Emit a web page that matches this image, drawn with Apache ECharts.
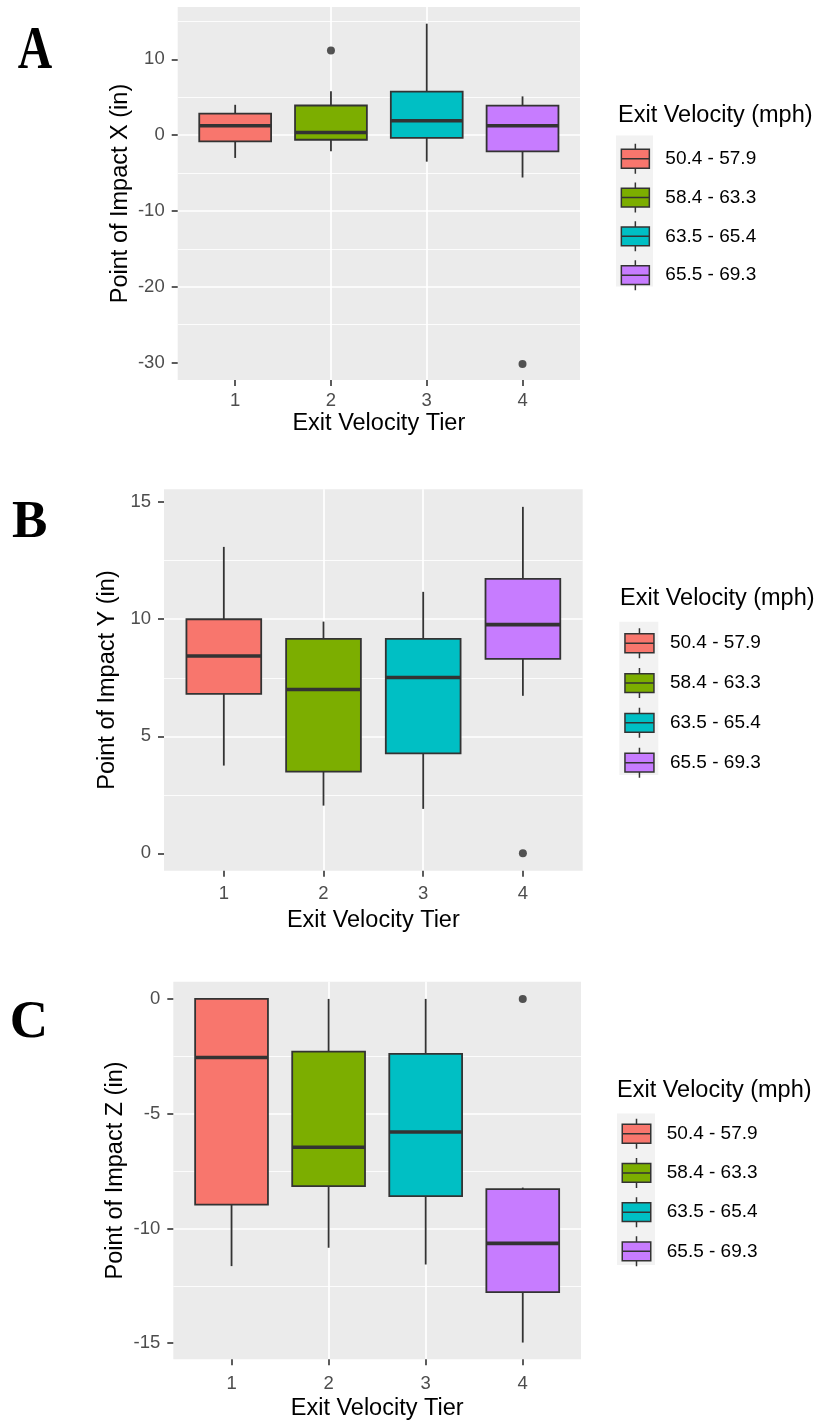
<!DOCTYPE html>
<html>
<head>
<meta charset="utf-8">
<script src="https://cdn.jsdelivr.net/npm/echarts@6/dist/echarts.min.js"></script>
<style>
html,body{margin:0;padding:0;background:#fff;}
#chart{width:825px;height:1425px;}
</style>
</head>
<body>
<div id="chart"></div>
<script>
// ---------------- data ----------------
const tiers = [1, 2, 3, 4];
const tierLabels = ['50.4 - 57.9', '58.4 - 63.3', '63.5 - 65.4', '65.5 - 69.3'];
const tierColors = ['#F8766D', '#7CAE00', '#00BFC4', '#C77CFF'];

// [min, Q1, median, Q3, max] per tier
const statsX = [
  [-3.01, -0.83, 1.24, 2.84, 4.0],
  [-2.14, -0.61, 0.35, 3.91, 5.78],
  [-3.5, -0.35, 1.9, 5.74, 14.7],
  [-5.59, -2.14, 1.24, 3.9, 5.11]
];
const outliersX = [[2, 11.15], [4, -30.2]];

const statsY = [
  [3.75, 6.81, 8.43, 10.0, 13.09],
  [2.04, 3.49, 7.0, 9.16, 9.9],
  [1.9, 4.27, 7.51, 9.16, 11.17],
  [6.73, 8.31, 9.77, 11.72, 14.8]
];
const outliersY = [[4, 0]];

const statsZ = [
  [-11.64, -8.96, -2.55, 0, 0],
  [-10.84, -8.16, -6.46, -2.3, 0],
  [-11.57, -8.59, -5.8, -2.39, 0],
  [-14.97, -12.77, -10.65, -8.29, -8.22]
];
const outliersZ = [[4, 0]];

const xTickValues = [1, 2, 3, 4];
const yTicksX = [-30, -20, -10, 0, 10];
const yTicksY = [0, 5, 10, 15];
const yTicksZ = [-15, -10, -5, 0];

const panelLetters = ['A', 'B', 'C'];
const yTitles = ['Point of Impact X (in)', 'Point of Impact Y (in)', 'Point of Impact Z (in)'];
const xTitle = 'Exit Velocity Tier';
const legendTitle = 'Exit Velocity (mph)';

// ---------------- styling / layout ----------------
const FONT = '"Liberation Sans", Arial, sans-serif';
const OUTLINE = '#333333';
const LW = 1.8;
const BOX_WIDTH = 0.75;

const panels = [
  { stats: statsX, outliers: outliersX, ticks: yTicksX, yMin: -32.3, yMax: 16.9, split: 5,
    grid: { left: 177.7, top: 7, width: 402.3, height: 373 },
    xLabelMargin: 11, xNameGap: 32, yNameGap: 45,
    legend: { left: 620.6, top: 143, gap: 7.3, iw: 28 }, bg: { x: 616, y: 135.5, w: 37, h: 151 },
    lTitle: { left: 618, top: 104 }, letter: { x: 35, y: 52, sx: 0.9, sy: 1.16 } },
  { stats: statsY, outliers: outliersY, ticks: yTicksY, yMin: -0.74, yMax: 15.55, split: 3,
    grid: { left: 164, top: 489.3, width: 418.7, height: 381.4 },
    xLabelMargin: 14, xNameGap: 38, yNameGap: 39.7,
    legend: { left: 624.2, top: 627.5, gap: 8.3, iw: 29 }, bg: { x: 619.3, y: 621.7, w: 39, h: 153.3 },
    lTitle: { left: 620, top: 587 }, letter: { x: 29.7, y: 523, sx: 1, sy: 1 } },
  { stats: statsZ, outliers: outliersZ, ticks: yTicksZ, yMin: -15.7, yMax: 0.75, split: 3,
    grid: { left: 173.3, top: 981.7, width: 407.7, height: 377.6 },
    xLabelMargin: 15.5, xNameGap: 37.5, yNameGap: 45.5,
    legend: { left: 621.5, top: 1118, gap: 7.7, iw: 28.5 }, bg: { x: 617, y: 1113.5, w: 38, h: 151.5 },
    lTitle: { left: 617, top: 1079 }, letter: { x: 29, y: 1023, sx: 1, sy: 1 } }
];

function iconPath(w, h) {
  const b1 = (h * 5.6 / 30).toFixed(2), b2 = (h * 24.4 / 30).toFixed(2), m = (h / 2).toFixed(2), c = (w / 2).toFixed(2);
  return 'path://M0,' + b1 + 'L' + w + ',' + b1 + 'L' + w + ',' + b2 + 'L0,' + b2 + 'Z' +
    'M0,' + m + 'L' + w + ',' + m +
    'M' + c + ',0L' + c + ',' + b1 +
    'M' + c + ',' + b2 + 'L' + c + ',' + h;
}

function renderBox(params, api) {
  const x = api.value(0);
  const pMin = api.coord([x, api.value(1)]);
  const pQ1 = api.coord([x, api.value(2)]);
  const pMed = api.coord([x, api.value(3)]);
  const pQ3 = api.coord([x, api.value(4)]);
  const pMax = api.coord([x, api.value(5)]);
  const w = api.size([BOX_WIDTH, 0], [x, 0])[0];
  const cx = pMed[0];
  const color = api.visual('color');
  const ls = { stroke: OUTLINE, lineWidth: LW };
  return {
    type: 'group',
    children: [
      { type: 'line', shape: { x1: cx, y1: pMax[1], x2: cx, y2: pQ3[1] }, style: ls },
      { type: 'line', shape: { x1: cx, y1: pQ1[1], x2: cx, y2: pMin[1] }, style: ls },
      { type: 'rect', shape: { x: cx - w / 2, y: pQ3[1], width: w, height: pQ1[1] - pQ3[1] },
        style: { fill: color, stroke: OUTLINE, lineWidth: LW } },
      { type: 'line', shape: { x1: cx - w / 2, y1: pMed[1], x2: cx + w / 2, y2: pMed[1] },
        style: { stroke: OUTLINE, lineWidth: LW * 2 } }
    ]
  };
}

const grids = [], xAxes = [], yAxes = [], series = [], legends = [], titles = [], graphics = [];

panels.forEach(function (p, pi) {
  grids.push(Object.assign({ show: true, backgroundColor: '#EBEBEB', borderWidth: 0 }, p.grid));
  xAxes.push({
    type: 'value', gridIndex: pi, min: 0.4, max: 4.6, position: 'bottom',
    name: xTitle, nameLocation: 'middle', nameGap: p.xNameGap,
    nameTextStyle: { fontSize: 23.5, color: '#000', fontFamily: FONT },
    axisLine: { show: false, onZero: false },
    axisTick: { show: true, length: 6, customValues: xTickValues, lineStyle: { color: OUTLINE, width: 1.6 } },
    axisLabel: { customValues: xTickValues, margin: p.xLabelMargin, fontSize: 18.5, color: '#4D4D4D', fontFamily: FONT },
    splitLine: { show: true, showMinLine: false, showMaxLine: false, lineStyle: { color: '#FFFFFF', width: 1.7 } }
  });
  yAxes.push({
    type: 'value', gridIndex: pi, min: p.yMin, max: p.yMax, splitNumber: p.split, position: 'left',
    name: yTitles[pi], nameLocation: 'middle', nameGap: p.yNameGap, nameRotate: 90,
    nameTextStyle: { fontSize: 23.5, color: '#000', fontFamily: FONT },
    axisLine: { show: false, onZero: false },
    axisTick: { show: true, length: 6, customValues: p.ticks, lineStyle: { color: OUTLINE, width: 1.6 } },
    axisLabel: { customValues: p.ticks, margin: 13, fontSize: 18.5, color: '#4D4D4D', fontFamily: FONT },
    splitLine: { show: true, showMinLine: false, showMaxLine: false, lineStyle: { color: '#FFFFFF', width: 1.7 } },
    minorTick: { show: false, splitNumber: 2 },
    minorSplitLine: { show: true, lineStyle: { color: '#FFFFFF', width: 0.85 } }
  });
  tiers.forEach(function (t, ti) {
    series.push({
      type: 'custom', name: tierLabels[ti], xAxisIndex: pi, yAxisIndex: pi,
      renderItem: renderBox,
      itemStyle: { color: tierColors[ti] },
      encode: { x: 0, y: [1, 2, 3, 4, 5] },
      dimensions: ['tier', 'min', 'q1', 'median', 'q3', 'max'],
      data: [[t].concat(p.stats[ti])],
      silent: true
    });
  });
  series.push({
    type: 'scatter', name: 'outliers', xAxisIndex: pi, yAxisIndex: pi,
    data: p.outliers, symbolSize: 8, itemStyle: { color: '#2B2B2B' }, silent: true, z: 5
  });
  legends.push({
    orient: 'vertical', left: p.legend.left, top: p.legend.top, padding: 0,
    itemWidth: p.legend.iw, itemHeight: 30, itemGap: p.legend.gap,
    selectedMode: false,
    data: tierLabels.map(function (n) { return { name: n, icon: iconPath(p.legend.iw, 30) }; }),
    itemStyle: { borderColor: OUTLINE, borderWidth: 1.5 },
    textStyle: { fontSize: 19, color: '#000', fontFamily: FONT, padding: [0, 0, 0, 11] }
  });
  titles.push({
    text: legendTitle, left: p.lTitle.left, top: p.lTitle.top, padding: 0,
    textStyle: { fontSize: 23.5, fontWeight: 'normal', color: '#000', fontFamily: FONT }
  });
  graphics.push({
    type: 'rect', left: p.bg.x, top: p.bg.y, shape: { width: p.bg.w, height: p.bg.h },
    style: { fill: '#F2F2F2' }, z: -10, silent: true
  });
  graphics.push({
    type: 'text', x: p.letter.x, y: p.letter.y, scaleX: p.letter.sx, scaleY: p.letter.sy,
    style: { text: panelLetters[pi], font: 'bold 53px "Liberation Serif", "Times New Roman", serif',
      fill: '#000', align: 'center', verticalAlign: 'middle' }, silent: true
  });
});

const chart = echarts.init(document.getElementById('chart'), null, { renderer: 'canvas' });
chart.setOption({
  backgroundColor: '#FFFFFF',
  animation: false,
  title: titles,
  grid: grids,
  xAxis: xAxes,
  yAxis: yAxes,
  legend: legends,
  graphic: graphics,
  series: series
});
</script>
</body>
</html>
